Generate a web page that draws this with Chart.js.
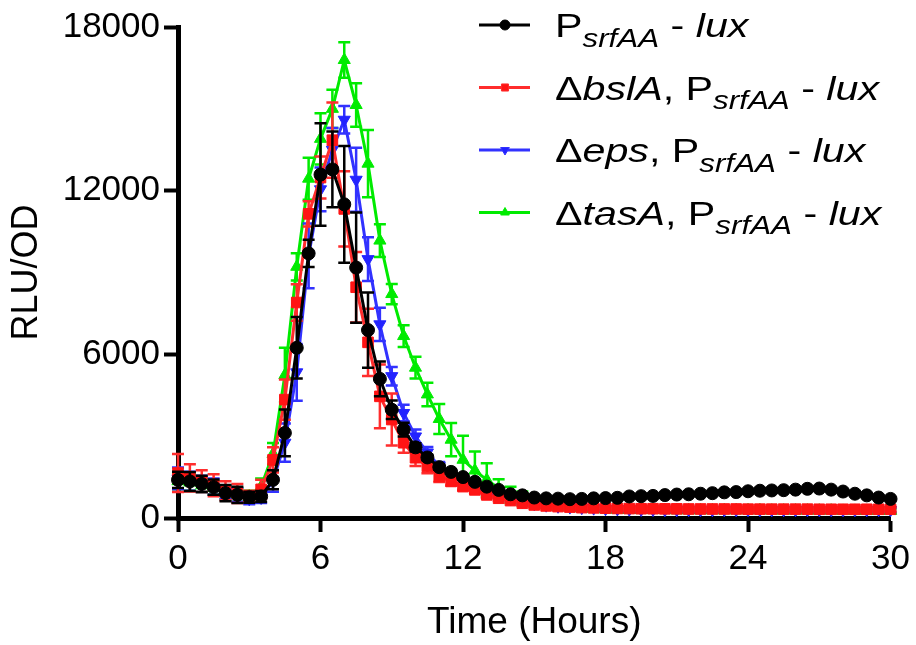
<!DOCTYPE html>
<html>
<head>
<meta charset="utf-8">
<script src="https://cdn.jsdelivr.net/npm/chart.js@4.4.0/dist/chart.umd.min.js"></script>
<style>
  html, body { margin: 0; padding: 0; background: #fff; }
  #wrap { width: 916px; height: 645px; }
</style>
</head>
<body>
<div id="wrap"><canvas id="grafico" width="916" height="645"></canvas></div>
<script>
// tempo (horas), uma medida a cada meia hora
const horas = [0, 0.5, 1, 1.5, 2, 2.5, 3, 3.5, 4, 4.5,
  5, 5.5, 6, 6.5, 7, 7.5, 8, 8.5, 9, 9.5,
  10, 10.5, 11, 11.5, 12, 12.5, 13, 13.5, 14, 14.5,
  15, 15.5, 16, 16.5, 17, 17.5, 18, 18.5, 19, 19.5,
  20, 20.5, 21, 21.5, 22, 22.5, 23, 23.5, 24, 24.5,
  25, 25.5, 26, 26.5, 27, 27.5, 28, 28.5, 29, 29.5,
  30];

const ticksX = [0, 6, 12, 18, 24, 30];
const ticksY = [0, 6000, 12000, 18000];

// PsrfAA - lux (selvagem)
const srfAA = [1400, 1340, 1250, 1130, 910, 850, 760, 790, 1400, 3120,
  6240, 9700, 12590, 12780, 11500, 9180, 6890, 5100, 3970, 3240,
  2590, 2220, 1865, 1690, 1500, 1325, 1150, 1030, 870, 830,
  750, 720, 710, 690, 700, 720, 730, 740, 790, 800,
  810, 840, 860, 870, 890, 910, 940, 950, 980, 1000,
  1010, 1020, 1040, 1070, 1080, 1040, 970, 890, 830, 750,
  700];
const srfAAErro = [300, 350, 300, 280, 300, 300, 200, 200, 350, 860,
  1130, 500, 1880, 1390, 2140, 2020, 1380, 640, 340, 250,
  150, 100, 100, 80, 80, 60, 60, 60, 60, 60,
  60, 60, 60, 60, 60, 60, 60, 60, 60, 60,
  60, 60, 60, 60, 60, 60, 60, 60, 60, 60,
  60, 60, 60, 60, 60, 60, 60, 60, 60, 60,
  60];

// delta bslA
const bslA = [1650, 1470, 1350, 1200, 1000, 900, 800, 1050, 2130, 4340,
  7900, 11150, 12480, 13850, 11330, 8460, 6440, 4460, 3610, 2760,
  2210, 1890, 1520, 1340, 1150, 1030, 846, 724, 638, 540,
  478, 442, 417, 400, 380, 370, 360, 350, 345, 340,
  340, 335, 335, 330, 330, 330, 330, 330, 325, 325,
  325, 325, 325, 325, 320, 320, 320, 320, 320, 320,
  320];
const bslAErro = [700, 500, 400, 400, 350, 350, 200, 350, 460, 740,
  670, 460, 770, 1380, 1380, 1290, 1230, 1170, 950, 370,
  300, 250, 200, 150, 120, 100, 100, 80, 80, 80,
  80, 80, 80, 80, 80, 80, 80, 80, 80, 80,
  80, 80, 80, 80, 80, 80, 80, 80, 80, 80,
  80, 80, 80, 80, 80, 80, 80, 80, 80, 80,
  80];

// delta eps
const eps = [1450, 1350, 1250, 1150, 950, 850, 700, 750, 1360, 2760,
  5340, 9610, 12050, 13500, 14600, 12400, 9490, 7100, 5200, 3850,
  2990, 2400, 1900, 1550, 1300, 1100, 950, 820, 700, 600,
  520, 470, 430, 400, 380, 360, 340, 330, 320, 310,
  310, 300, 300, 300, 300, 300, 300, 300, 300, 300,
  300, 300, 300, 300, 300, 300, 300, 300, 300, 300,
  300];
const epsErro = [400, 350, 300, 300, 250, 250, 200, 200, 400, 700,
  1040, 1190, 800, 800, 500, 1170, 800, 610, 340, 300,
  250, 200, 150, 120, 100, 80, 80, 80, 80, 80,
  80, 80, 80, 80, 80, 80, 80, 80, 80, 80,
  80, 80, 80, 80, 80, 80, 80, 80, 80, 80,
  80, 80, 80, 80, 80, 80, 80, 80, 80, 80,
  80];

// delta tasA
const tasA = [1350, 1300, 1200, 1100, 950, 850, 800, 1150, 2350, 5240,
  9210, 12440, 13900, 15000, 16790, 15140, 12990, 10170, 8210, 6670,
  5510, 4530, 3630, 2870, 2135, 1740, 1400, 1090, 846, 720,
  600, 515, 417, 380, 350, 330, 310, 300, 300, 290,
  290, 290, 280, 280, 280, 280, 280, 280, 280, 280,
  270, 270, 270, 270, 270, 270, 260, 260, 260, 260,
  260];
const tasAErro = [300, 300, 250, 250, 250, 250, 200, 300, 400, 1000,
  500, 770, 940, 700, 650, 800, 1230, 600, 370, 400,
  400, 430, 550, 610, 880, 700, 610, 330, 300, 250,
  200, 150, 100, 80, 80, 80, 80, 80, 80, 80,
  80, 80, 80, 80, 80, 80, 80, 80, 80, 80,
  80, 80, 80, 80, 80, 80, 80, 80, 80, 80,
  80];

const fonte = '"Liberation Sans", Arial, sans-serif';

// texto da legenda: n = normal, i = italico, s = subscrito italico
const legendaTextos = [
  [["P", "n"], ["srfAA", "s"], [" - ", "n"], ["lux", "i"]],
  [["\u0394", "n"], ["bslA", "i"], [", P", "n"], ["srfAA", "s"], [" - ", "n"], ["lux", "i"]],
  [["\u0394", "n"], ["eps", "i"], [", P", "n"], ["srfAA", "s"], [" - ", "n"], ["lux", "i"]],
  [["\u0394", "n"], ["tasA", "i"], [", P", "n"], ["srfAA", "s"], [" - ", "n"], ["lux", "i"]],
];

function montarSerie(valores) {
  return horas.map((h, i) => ({ x: h, y: valores[i] }));
}

// barras de erro (media +- erro) desenhadas pela escala y
const barrasErro = {
  id: "barrasErro",
  beforeDatasetDraw(chart, args) {
    const ds = chart.data.datasets[args.index];
    if (!ds.erros) return;
    const escalaY = chart.scales.y;
    const ctx = chart.ctx;
    ctx.save();
    ctx.strokeStyle = ds.borderColor;
    ctx.lineWidth = 2.5;
    args.meta.data.forEach((ponto, i) => {
      const v = ds.data[i].y;
      const e = ds.erros[i];
      const yTopo = escalaY.getPixelForValue(v + e);
      const yBase = escalaY.getPixelForValue(v - e);
      ctx.beginPath();
      ctx.moveTo(ponto.x, yTopo);
      ctx.lineTo(ponto.x, yBase);
      ctx.moveTo(ponto.x - 6, yTopo);
      ctx.lineTo(ponto.x + 6, yTopo);
      ctx.moveTo(ponto.x - 6, yBase);
      ctx.lineTo(ponto.x + 6, yBase);
      ctx.stroke();
    });
    ctx.restore();
  },
};

const legendaPropria = {
  id: "legendaPropria",
  afterDraw(chart) {
    const ctx = chart.ctx;
    chart.data.datasets.forEach((ds, k) => {
      const yLinha = 25 + k * 62.5;
      ctx.save();
      ctx.strokeStyle = ds.borderColor;
      ctx.fillStyle = ds.pointBackgroundColor;
      ctx.lineWidth = 3;
      ctx.beginPath();
      ctx.moveTo(479, yLinha);
      ctx.lineTo(530, yLinha);
      ctx.stroke();
      ctx.lineWidth = 1;
      Chart.helpers.drawPoint(ctx, {
        pointStyle: ds.pointStyle,
        rotation: ds.pointRotation || 0,
        radius: 5,
        borderWidth: 1,
      }, 505, yLinha);
      ctx.restore();

      ctx.save();
      ctx.fillStyle = "#000";
      ctx.textBaseline = "alphabetic";
      ctx.translate(555, yLinha + 12);
      ctx.scale(1.23, 1);
      let x = 0;
      legendaTextos[k].forEach(([txt, tipo]) => {
        let dy = 0;
        if (tipo === "n") ctx.font = "33.5px " + fonte;
        if (tipo === "i") ctx.font = "italic 33.5px " + fonte;
        if (tipo === "s") { ctx.font = "italic 25.5px " + fonte; dy = 9.5; }
        ctx.fillText(txt, x, dy);
        x += ctx.measureText(txt).width;
      });
      ctx.restore();
    });
  },
};

const dados = {
  datasets: [
    {
      label: "PsrfAA - lux",
      data: montarSerie(srfAA),
      erros: srfAAErro,
      borderColor: "#000000",
      pointBackgroundColor: "#000000",
      pointBorderColor: "#000000",
      pointStyle: "circle",
      pointRadius: 6.5,
    },
    {
      label: "\u0394bslA, PsrfAA - lux",
      data: montarSerie(bslA),
      erros: bslAErro,
      borderColor: "rgb(255,45,45)",
      pointBackgroundColor: "rgb(255,20,20)",
      pointBorderColor: "rgb(255,20,20)",
      pointStyle: "rect",
      pointRadius: 7.5,
    },
    {
      label: "\u0394eps, PsrfAA - lux",
      data: montarSerie(eps),
      erros: epsErro,
      borderColor: "rgb(50,50,255)",
      pointBackgroundColor: "rgb(35,35,255)",
      pointBorderColor: "rgb(35,35,255)",
      pointStyle: "triangle",
      pointRotation: 180,
      pointRadius: 7,
    },
    {
      label: "\u0394tasA, PsrfAA - lux",
      data: montarSerie(tasA),
      erros: tasAErro,
      borderColor: "rgb(0,235,0)",
      pointBackgroundColor: "rgb(0,235,0)",
      pointBorderColor: "rgb(0,235,0)",
      pointStyle: "triangle",
      pointRadius: 7,
    },
  ],
};

dados.datasets.forEach((ds) => {
  ds.borderWidth = 3;
  ds.pointBorderWidth = 1;
  ds.tension = 0;
  ds.fill = false;
  ds.clip = false;
});

const config = {
  type: "line",
  data: dados,
  plugins: [barrasErro, legendaPropria],
  options: {
    responsive: false,
    animation: false,
    devicePixelRatio: 1,
    layout: { padding: { top: 27, right: 23, left: 0, bottom: 0 } },
    plugins: {
      legend: { display: false },
      tooltip: { enabled: false },
    },
    scales: {
      x: {
        type: "linear",
        min: 0,
        max: 30,
        afterBuildTicks: (s) => { s.ticks = ticksX.map((v) => ({ value: v })); },
        afterFit: (s) => { s.height = 127; },
        ticks: {
          color: "#000",
          font: { family: fonte, size: 35 },
          padding: 6,
          maxRotation: 0,
          autoSkip: false,
        },
        grid: { drawOnChartArea: false, tickLength: 14, tickWidth: 4, tickColor: "#000" },
        border: { color: "#000", width: 5 },
        title: {
          display: true,
          text: "Time (Hours)",
          color: "#000",
          font: { family: fonte, size: 37 },
          padding: { top: 0, bottom: 0 },
        },
      },
      y: {
        type: "linear",
        min: 0,
        max: 18000,
        afterBuildTicks: (s) => { s.ticks = ticksY.map((v) => ({ value: v })); },
        afterFit: (s) => { s.width = 178; },
        ticks: {
          color: "#000",
          font: { family: fonte, size: 35 },
          padding: 4,
          callback: (v) => String(v),
        },
        grid: { drawOnChartArea: false, tickLength: 14, tickWidth: 4, tickColor: "#000" },
        border: { color: "#000", width: 5 },
        title: {
          display: true,
          text: "RLU/OD",
          color: "#000",
          font: { family: fonte, size: 36 },
          padding: { top: 5, bottom: 0 },
        },
      },
    },
  },
};

let meuGrafico = new Chart(document.getElementById("grafico"), config);
</script>
</body>
</html>
